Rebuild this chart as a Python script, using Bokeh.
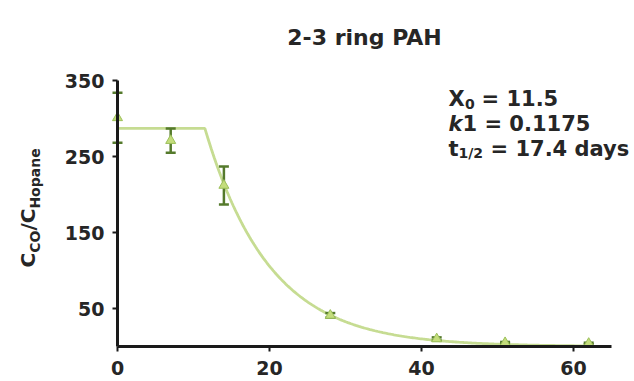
import numpy as np
from bokeh.plotting import figure
from bokeh.models import ColumnDataSource, Label, FixedTicker, Range1d
from bokeh.embed import file_html
from bokeh.resources import INLINE

# Measured ratios C_CO / C_Hopane (mean and SD) over time (days)
days = [0, 7, 14, 28, 42, 51, 62]
ratio_mean = [301, 271, 212, 41, 10, 5, 4]
ratio_sd = [33, 16, 25, 3, 2, 1, 1]

# Plateau followed by one-phase decay fit
plateau = 287.0
x0 = 11.5
k1 = 0.1175

x_ticks = [0, 20, 40, 60]
y_ticks = [50, 150, 250, 350]
x_axis_span = (0, 65)
y_axis_span = (0, 350)

W, H = 634, 381
# pixel positions of the axis box inside the canvas
AX_L, AX_R, AX_T, AX_B = 117, 611, 80, 346

sx = (AX_R - AX_L) / (x_axis_span[1] - x_axis_span[0])
sy = (AX_B - AX_T) / (y_axis_span[1] - y_axis_span[0])


def dx(px):
    return x_axis_span[0] + (px - AX_L) / sx


def dy(py):
    return y_axis_span[0] + (AX_B - py) / sy


# The plot area spans the whole canvas; the axes sit at x=0 / y=0.
p = figure(width=W, height=H, output_backend="svg", toolbar_location=None,
           title=None,
           x_range=Range1d(dx(0), dx(W)), y_range=Range1d(dy(H), dy(0)),
           min_border_left=0, min_border_right=0,
           min_border_top=0, min_border_bottom=0)
p.outline_line_color = None
p.xgrid.visible = False
p.ygrid.visible = False
p.background_fill_color = "white"
p.border_fill_color = "white"

p.xaxis.fixed_location = 0
p.yaxis.fixed_location = 0
p.xaxis.bounds = x_axis_span
p.yaxis.bounds = y_axis_span

for ax in (p.xaxis[0], p.yaxis[0]):
    ax.axis_line_width = 3
    ax.axis_line_color = "#1a1a1a"
    ax.major_tick_line_width = 2
    ax.major_tick_line_color = "#1a1a1a"
    ax.major_tick_out = 5
    ax.major_tick_in = 0
    ax.minor_tick_line_color = None
    ax.major_label_text_font = "DejaVu Sans"
    ax.major_label_text_font_style = "bold"
    ax.major_label_text_font_size = "19px"
    ax.major_label_text_color = "#262626"
p.xaxis.ticker = FixedTicker(ticks=x_ticks)
p.yaxis.ticker = FixedTicker(ticks=y_ticks)
p.xaxis.major_label_standoff = 9
p.yaxis.major_label_standoff = 8

# Fitted curve
xs = np.linspace(0, 62.5, 300)
ys = np.where(xs < x0, plateau, plateau * np.exp(-k1 * (xs - x0)))
p.line(xs, ys, line_color="#c6dc92", line_width=2.8)

# Error bars
lo = [m - s for m, s in zip(ratio_mean, ratio_sd)]
hi = [m + s for m, s in zip(ratio_mean, ratio_sd)]
src = ColumnDataSource(dict(x=days, y=ratio_mean, lo=lo, hi=hi))
p.segment(x0="x", y0="lo", x1="x", y1="hi", source=src,
          line_color="#557a2c", line_width=2.5)
p.scatter("x", "lo", source=src, marker="dash", size=10,
          line_color="#557a2c", line_width=2.5)
p.scatter("x", "hi", source=src, marker="dash", size=10,
          line_color="#557a2c", line_width=2.5)

# Means
p.scatter("x", "y", source=src, marker="triangle", size=10,
          fill_color="#c4dd7c", line_color="#9cc05a", line_width=1)

FONT = "DejaVu Sans"


def add_text(text, px, py, size, style="bold", align="left", angle=0.0,
             color="#262626"):
    p.add_layout(Label(x=dx(px), y=dy(py), text=text, text_font=FONT,
                       text_font_style=style, text_font_size=f"{size}px",
                       text_align=align, text_baseline="alphabetic",
                       angle=angle, text_color=color))


# Title
add_text("2-3 ring PAH", 364, 37, 22, align="center")

# Fit parameters
add_text("X", 448, 98, 21)
add_text("0", 464.5, 103, 14)
add_text("= 11.5", 481, 98, 21)
add_text("k", 448, 123, 21, style="bold italic")
add_text("1 = 0.1175", 462, 123, 21)
add_text("t", 448, 148, 21)
add_text("1/2", 458, 152, 14)
add_text("= 17.4 days", 490, 148, 21)

# Vertical axis label C_CO / C_Hopane, built from pieces reading upward
rot = np.pi / 2
add_text("C", 27, 267, 20, angle=rot)
add_text("CO", 34, 252.3, 14, angle=rot)
add_text("/C", 27, 230.1, 20, angle=rot)
add_text("Hopane", 34, 208.1, 14, angle=rot)

open("out.html", "w").write(file_html(p, INLINE))
